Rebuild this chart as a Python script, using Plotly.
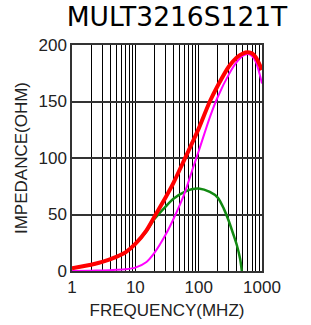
import plotly.graph_objects as go

# Frequency (MHz)
freq = [1, 2, 3, 5, 7, 10, 15, 20, 30, 40, 60, 80, 100, 150, 200, 300, 400, 500, 600, 700, 800, 1000]
# |Z| (red)
z_vals = [2.5, 5.5, 8, 12.5, 16.5, 24, 36, 48, 65, 78, 99, 114, 126, 150, 164, 181, 189, 192.5, 193.5, 192.5, 189, 178]
# R (magenta)
r_vals = [0, 0.3, 0.5, 1, 1.5, 3, 8, 16, 32, 46, 69, 90, 106, 136, 154, 174, 185, 190.5, 192, 190, 185, 166]
# X (green)
x_freq = [1, 2, 3, 5, 7, 10, 15, 20, 30, 40, 60, 80, 100, 150, 200, 250, 300, 350, 400, 450, 480]
x_vals = [2.5, 5.5, 8, 12.5, 16.5, 24, 35, 46, 57, 64, 70, 72.5, 73, 70, 65, 55, 44, 33, 23, 11, 0]

x_ticks = [1, 10, 100, 1000]
y_ticks = [0, 50, 100, 150, 200]
minor_vals = [m * 10 ** d for d in range(3) for m in range(2, 10)]

W, H = 311, 325

fig = go.Figure()
fig.add_trace(go.Scatter(x=x_freq, y=x_vals, mode="lines", line=dict(color="#128a12", width=2.5, shape="spline", smoothing=0.8)))
fig.add_trace(go.Scatter(x=freq, y=r_vals, mode="lines", line=dict(color="#ff00ff", width=2, shape="spline", smoothing=0.8)))
fig.add_trace(go.Scatter(x=freq, y=z_vals, mode="lines", line=dict(color="#ff0000", width=4, shape="spline", smoothing=0.8)))

fig.update_layout(
    width=W, height=H,
    margin=dict(l=72, r=49, t=45, b=54),
    paper_bgcolor="white", plot_bgcolor="white",
    showlegend=False,
    title=dict(text="MULT3216S121T", font=dict(family="DejaVu Sans", size=26.5, color="black"),
               x=177 / W, xanchor="center", xref="container",
               y=1 - 17 / H, yanchor="middle", yref="container"),
    font=dict(family="Liberation Sans, Arial", color="#222"),
)
fig.update_xaxes(
    type="log", range=[0, 3], automargin=False,
    tickvals=x_ticks, ticktext=[str(v) for v in x_ticks],
    tickfont=dict(size=17), ticks="",
    showgrid=True, gridcolor="black", gridwidth=1,
    minor=dict(tickvals=minor_vals, showgrid=True, gridcolor="black", gridwidth=1, ticks=""),
    showline=True, linecolor="#333", linewidth=1.5, mirror=True,
    title=dict(text="FREQUENCY(MHZ)", font=dict(size=17), standoff=8),
    zeroline=False,
)
fig.update_yaxes(
    range=[0, 200], tickvals=y_ticks, automargin=False,
    tickfont=dict(size=17), ticks="",
    showgrid=True, gridcolor="#333", gridwidth=1.5,
    showline=True, linecolor="#333", linewidth=1.5, mirror=True,
    title=dict(text="IMPEDANCE(OHM)", font=dict(size=17), standoff=7),
    zeroline=False,
)
fig.write_html("out.html", config={"displayModeBar": False},
               post_script="document.body.style.margin='0px';document.body.style.overflow='hidden';")
